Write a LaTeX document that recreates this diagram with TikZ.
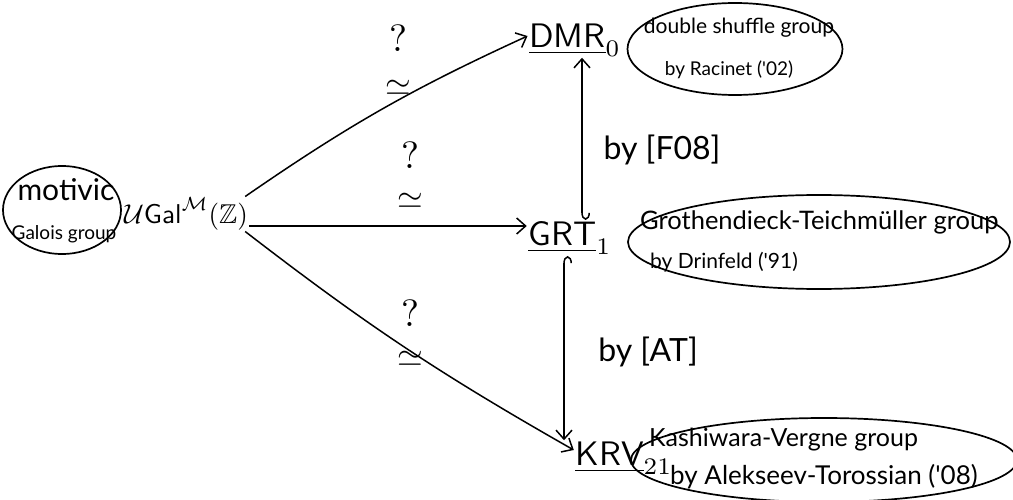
\documentclass[tikz,border=0pt]{standalone}
\usepackage{amsmath,amssymb}
\usepackage{fontspec}
\newfontfamily\hand{Lato}
\usetikzlibrary{shapes.geometric,arrows.meta}
\tikzset{
  note/.style={ellipse, draw, line width=1.7pt, inner sep=0pt},
  txt/.style={inner sep=0pt},
  grp/.style={inner sep=0.3pt, font=\fontsize{10}{12}\selectfont, scale=3.4},
  arr/.style={-{Straight Barb[length=9pt,width=16pt,line width=1.5pt]}, line width=1.5pt},
  hookL/.style={{Hooks[left,length=7pt,width=16pt,line width=1.5pt]}-{Straight Barb[length=9pt,width=16pt,line width=1.5pt]}, line width=1.5pt},
  hookR/.style={{Hooks[right,length=7pt,width=16pt,line width=1.5pt]}-{Straight Barb[length=9pt,width=16pt,line width=1.5pt]}, line width=1.5pt},
  qm/.style={inner sep=0pt, font=\fontsize{10}{12}\selectfont, scale=3.8},
  sim/.style={inner sep=0pt, font=\fontsize{10}{12}\selectfont, scale=3.3},
  bytext/.style={inner sep=0pt, font=\hand\fontsize{32}{36}\selectfont}
}
\begin{document}
\begin{tikzpicture}[x=1pt,y=-1pt]
\useasboundingbox (0,0) rectangle (1013,500);
% ellipses
\node[note, minimum width=118pt, minimum height=88pt] (mot) at (62,210) {};
\node[note, minimum width=215pt, minimum height=92pt] (ds) at (735,49) {};
\node[note, minimum width=382pt, minimum height=94pt] (gt) at (819,242) {};
\node[note, minimum width=386pt, minimum height=84pt] (kv) at (824,460) {};
% ellipse texts
\node[txt, font=\hand\fontsize{30}{34}\selectfont] (motA) at (66,190) {motivic};
\node[txt, font=\hand\fontsize{19}{22}\selectfont] (motB) at (64,234) {Galois group};
\node[txt, font=\hand\fontsize{21}{24}\selectfont] (dsA) at (739,28) {double shuffle group};
\node[txt, font=\hand\fontsize{19}{24}\selectfont] (dsB) at (729,70) {by Racinet ('02)};
\node[txt, font=\hand\fontsize{25.5}{30}\selectfont, anchor=west] (gtA) at (640,222) {Grothendieck-Teichmüller group};
\node[txt, font=\hand\fontsize{21}{30}\selectfont, anchor=west] (gtB) at (650,262) {by Drinfeld ('91)};
\node[txt, font=\hand\fontsize{25}{30}\selectfont, anchor=west] (kvA) at (649,440) {Kashiwara-Vergne group};
\node[txt, font=\hand\fontsize{26}{30}\selectfont, anchor=west] (kvB) at (670,477) {by Alekseev-Torossian ('08)};
% groups
\node[grp, scale=0.8] (U) at (186,214) {$\mathcal{U}\mathsf{Gal}^{\mathcal{M}}(\mathbb{Z})$};
\node[grp] (dmr) at (575,40) {$\underline{\mathsf{DMR}}_0$};
\node[grp] (grt) at (570,238) {$\underline{\mathsf{GRT}}_1$};
\node[grp] (krv) at (624,458) {$\underline{\mathsf{KRV}}_{21}$};
% arrows
\draw[arr] ([xshift=-4pt]U.north east) to[bend left=5] ([yshift=4pt]dmr.west);
\draw[arr] ([yshift=-12pt]U.east) -- ([yshift=-12pt]U.east -| grt.west);
\draw[arr] ([xshift=-4pt]U.south east) to[bend right=4] ([yshift=8pt]krv.west);
\draw[hookL] ([xshift=12pt]grt.north) -- ([xshift=12pt]grt.north |- dmr.south);
\draw[hookR] ([xshift=-6pt]grt.south) -- ([xshift=-6pt]grt.south |- krv.north);
% labels
\node[qm] (q1) at (398,38) {$?$};
\node[sim] (s1) at (398,88) {$\simeq$};
\node[qm] (q2) at (410,155) {$?$};
\node[sim] (s2) at (410,201) {$\simeq$};
\node[qm] (q3) at (410,313) {$?$};
\node[sim] (s3) at (410,359) {$\simeq$};
\node[bytext] (f08) at (662,150) {by [F08]};
\node[bytext] (at) at (648,352) {by [AT]};
\end{tikzpicture}
\end{document}
